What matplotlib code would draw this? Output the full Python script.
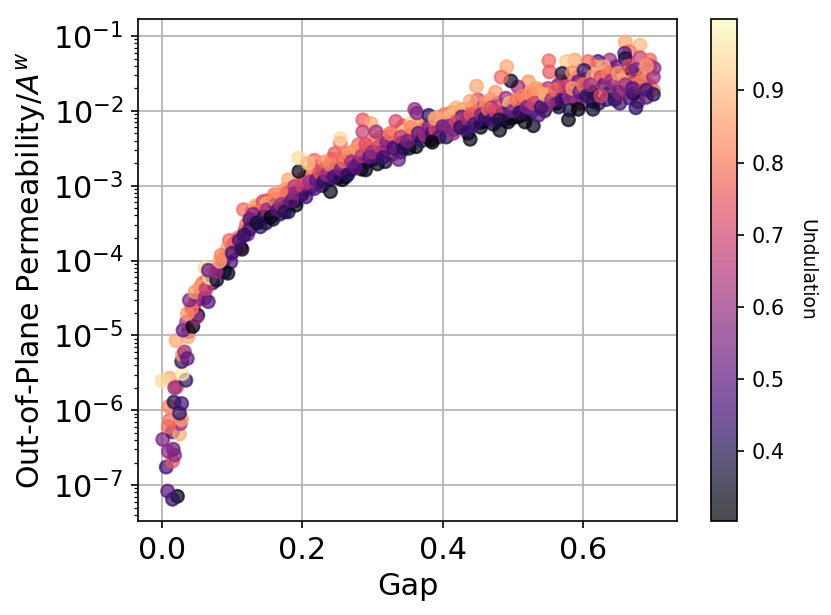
import numpy as np
import matplotlib
matplotlib.use("Agg")
import matplotlib.pyplot as plt

# values, log10 of the permeability because the axis is log
gap_low = [.022, .015, .008, .006, .015, .018, .016, .009, .001, .015,
           .025, .026, .009, .011, .028, .010, .025, .017, .028, .011,
           .000, .021, .018, .034, .029, .028, .029, .032, .036, .020,
           .037, .030, .035, .044, .051, .049, .036, .042, .039, .047,
           .054, .061, .066, .063, .061, .068, .078, .066, .089, .094,
           .077, .082, .093, .084, .103, .096, .114, .117, .100, .110]
logk_low = [-7.15, -7.19, -7.08, -6.76, -6.68, -6.60, -6.52, -6.55, -6.39, -6.29,
            -6.32, -6.18, -6.22, -6.13, -6.12, -5.95, -6.04, -5.89, -5.91, -5.57,
            -5.61, -5.69, -5.70, -5.60, -5.51, -5.35, -5.26, -5.22, -5.31, -5.07,
            -5.02, -4.93, -4.82, -4.88, -4.73, -4.76, -4.71, -4.64, -4.53, -4.42,
            -4.35, -4.50, -4.55, -4.38, -4.10, -4.23, -4.26, -4.13, -4.15, -4.17,
            -4.15, -4.01, -3.84, -3.93, -3.77, -3.73, -3.85, -3.66, -3.90, -3.73]
und_low = [.31, .42, .48, .45, .75, .58, .52, .58, .55, .47,
           .88, .62, .78, .78, .85, .82, .42, .40, .45, .88,
           .95, .75, .60, .42, .97, .42, .85, .62, .50, .87,
           .87, .50, .62, .305, .35, .60, .85, .80, .55, .85,
           .85, .60, .48, .68, .95, .96, .35, .50, .42, .33,
           .60, .88, .88, .82, .70, .78, .33, .42, .45, .45]

gap_mid = [.116, .133, .144, .149, .140, .161, .168, .180, .180, .191,
           .199, .178, .189, .195, .195, .215, .217, .208, .217, .240,
           .229, .232, .248, .246, .257, .250, .267, .254, .254, .269,
           .280, .279, .290, .286, .298, .286, .299, .307, .309, .305,
           .308, .324, .333, .337, .331, .345, .342, .357, .362, .383,
           .360, .357, .363, .375, .380, .390,
           .125, .130, .135, .145, .150, .155, .160, .165, .170, .175,
           .185, .190, .200, .205, .210, .220, .225, .230, .235, .240,
           .245, .255, .260, .265, .270, .275, .285, .290, .295, .300,
           .310, .315, .320, .325, .330, .340, .345, .350, .355, .365,
           .370, .375, .380, .385, .390, .395]
logk_mid = [-3.32, -3.27, -3.21, -3.24, -3.33, -3.26, -3.10, -2.92, -3.24, -3.26,
            -3.12, -3.10, -3.01, -2.81, -2.63, -2.86, -2.66, -2.70, -3.04, -3.08,
            -2.79, -2.68, -2.75, -2.57, -2.92, -2.90, -2.57, -2.43, -2.37, -2.79,
            -2.69, -2.52, -2.79, -2.12, -2.17, -2.28, -2.43, -2.71, -2.37, -2.28,
            -2.57, -2.52, -2.14, -2.65, -2.37, -2.28, -2.43, -2.30, -2.48, -2.39,
            -1.98, -2.14, -2.03, -2.19, -2.06, -2.12,
            -3.45, -3.38, -3.50, -3.42, -3.32, -3.42, -3.18, -3.32, -3.25, -3.35,
            -3.20, -3.10, -3.00, -3.15, -2.95, -2.92, -2.82, -2.95, -2.85, -2.72,
            -2.88, -2.78, -2.68, -2.85, -2.68, -2.75, -2.60, -2.45, -2.62, -2.55,
            -2.47, -2.62, -2.42, -2.30, -2.50, -2.35, -2.50, -2.40, -2.22, -2.30,
            -2.40, -2.32, -2.22, -2.30, -2.25, -2.35]
und_mid = [.78, .87, .72, .88, .78, .42, .85, .87, .31, .33,
           .31, .78, .65, .33, .95, .83, .78, .90, .48, .33,
           .55, .85, .65, .75, .31, .33, .85, .78, .95, .31,
           .42, .85, .33, .75, .87, .68, .85, .33, .85, .62,
           .42, .72, .72, .52, .85, .93, .42, .78, .31, .31,
           .60, .95, .55, .85, .42, .87,
           .45, .55, .36, .40, .60, .33, .82, .50, .62, .40,
           .50, .58, .70, .45, .60, .50, .75, .42, .60, .82,
           .45, .55, .80, .42, .60, .50, .65, .72, .50, .60,
           .70, .45, .55, .80, .45, .68, .40, .55, .82, .50,
           .42, .62, .55, .45, .72, .48]

gap_high = [.660, .681, .666, .659, .660, .681, .695, .701, .638, .621,
            .647, .629, .617, .607, .588, .576, .551, .552, .570, .585,
            .601, .669, .690, .671, .614, .593, .620, .628, .612, .650,
            .655, .638, .695, .700, .655, .672, .675, .690, .700, .666,
            .633, .614, .590, .579, .574, .550, .533, .522, .507, .497,
            .491, .483, .475, .490, .448, .439, .419, .410, .389, .427,
            .462, .469, .495, .514, .453, .454, .481, .439, .517, .529,
            .507, .493, .385, .405, .434, .415, .400, .536, .562, .548,
            .581, .593, .614, .448, .486, .524, .564,
            .410, .420, .425, .435, .440, .445, .455, .460, .465, .470,
            .475, .480, .500, .505, .510, .515, .520, .530, .540, .545,
            .555, .560, .570, .575, .580, .585, .595, .600, .605, .610,
            .625, .630, .635, .640, .645, .650, .660, .665, .675, .680,
            .685, .690, .695, .700, .690, .670, .650, .625]
logk_high = [-1.08, -1.12, -1.21, -1.23, -1.30, -1.29, -1.32, -1.43, -1.32, -1.34,
             -1.41, -1.41, -1.41, -1.34, -1.32, -1.34, -1.33, -1.48, -1.50, -1.49,
             -1.46, -1.47, -1.50, -1.59, -1.54, -1.61, -1.63, -1.75, -1.75, -1.68,
             -1.59, -1.75, -1.66, -1.72, -1.79, -1.77, -1.96, -1.82, -1.78, -1.83,
             -1.85, -1.88, -1.86, -2.12, -1.77, -1.80, -1.70, -1.61, -1.68, -1.60,
             -1.41, -1.55, -1.75, -1.83, -1.67, -1.87, -1.96, -2.08, -2.10, -2.08,
             -1.90, -1.96, -1.90, -1.94, -2.15, -2.22, -2.26, -2.38, -2.15, -2.20,
             -2.08, -2.15, -2.42, -2.35, -2.24, -2.30, -2.21, -2.06, -1.90, -1.92,
             -1.99, -1.98, -1.98, -2.01, -2.04, -1.86, -1.66,
             -2.20, -2.15, -2.22, -2.10, -2.05, -2.18, -2.05, -2.10, -1.98, -2.12,
             -2.00, -2.12, -2.00, -1.85, -2.02, -1.80, -1.95, -1.90, -1.95, -1.78,
             -1.85, -1.72, -1.85, -1.68, -1.80, -1.70, -1.75, -1.65, -1.80, -1.65,
             -1.55, -1.65, -1.50, -1.60, -1.85, -1.50, -1.65, -1.40, -1.45, -1.65,
             -1.55, -1.72, -1.40, -1.55, -1.40, -1.70, -1.75, -1.80]
und_high = [.87, .90, .80, .50, .38, .68, .78, .58, .62, .45,
            .50, .88, .87, .78, .87, .92, .78, .75, .37, .83,
            .42, .31, .87, .78, .85, .50, .95, .95, .31, .78,
            .88, .42, .78, .82, .78, .31, .42, .50, .40, .45,
            .42, .38, .60, .32, .48, .87, .85, .85, .62, .35,
            .87, .78, .85, .60, .87, .87, .88, .90, .87, .50,
            .85, .60, .90, .62, .33, .31, .33, .33, .33, .33,
            .31, .31, .31, .40, .45, .60, .50, .48, .32, .60,
            .38, .31, .36, .80, .45, .85, .55,
            .58, .70, .42, .62, .75, .45, .55, .42, .78, .45,
            .70, .38, .55, .80, .42, .82, .55, .70, .45, .88,
            .60, .78, .45, .70, .60, .85, .50, .80, .42, .60,
            .72, .50, .80, .60, .42, .85, .60, .70, .55, .75,
            .80, .45, .65, .62, .85, .48, .55, .70]

# the dense middle of the band, drawn first so the readable points sit on top
gap_bulk = [.038, .045, .048, .052, .055, .058, .060, .065, .070, .072,
            .075, .080, .085, .088, .090, .095, .098, .105, .108, .112,
            .118, .120, .122, .125, .128, .130, .135, .138, .140, .142,
            .145, .148, .150, .152, .155, .158, .160, .163, .166, .168,
            .170, .172, .175, .178, .180, .183, .186, .190, .193, .198,
            .202, .205, .208, .212, .215, .218, .222, .226, .228, .232,
            .236, .238, .242, .246, .250, .252, .256, .260, .262, .266,
            .270, .272, .276, .280, .282, .284, .288, .292, .296, .300,
            .303, .306, .312, .316, .318, .322, .326, .328, .332, .336,
            .340, .344, .348, .352, .356, .360, .368, .372, .378, .392,
            .402, .406, .412, .416, .422, .428, .432, .436, .442, .446,
            .450, .456, .458, .464, .468, .472, .478, .482, .488, .492,
            .498, .502, .506, .512, .516, .520, .526, .528, .535, .540,
            .545, .550, .558, .565, .568, .572, .578, .588, .592, .598,
            .603, .608, .618, .622, .632, .642, .652, .662, .678, .688]
logk_bulk = [-4.95, -4.65, -4.55, -4.52, -4.45, -4.30, -4.40, -4.25, -4.20, -4.30,
             -4.12, -4.15, -4.05, -4.00, -3.95, -3.90, -4.02, -3.85, -3.70, -3.82,
             -3.60, -3.52, -3.65, -3.58, -3.35, -3.50, -3.30, -3.42, -3.55, -3.25,
             -3.35, -3.50, -3.20, -3.38, -3.28, -3.45, -3.12, -3.30, -3.20, -3.38,
             -3.15, -3.30, -3.05, -3.22, -3.35, -3.05, -3.15, -3.20, -2.98, -3.05,
             -2.90, -3.05, -2.95, -3.02, -2.78, -2.95, -2.75, -2.90, -3.00, -2.80,
             -2.75, -2.92, -2.65, -2.82, -2.70, -2.85, -2.62, -2.78, -2.88, -2.62,
             -2.55, -2.75, -2.62, -2.45, -2.60, -2.78, -2.52, -2.68, -2.48, -2.65,
             -2.40, -2.52, -2.35, -2.50, -2.68, -2.35, -2.45, -2.58, -2.28, -2.45,
             -2.55, -2.20, -2.35, -2.50, -2.35, -2.25, -2.18, -2.25, -2.35, -2.20,
             -2.05, -2.15, -2.02, -2.25, -2.08, -1.98, -2.18, -2.30, -1.95, -2.10,
             -1.85, -2.15, -1.95, -2.05, -1.85, -2.18, -1.90, -1.98, -2.12, -1.98,
             -2.10, -1.88, -1.95, -1.85, -2.05, -1.75, -2.02, -1.78, -1.88, -1.72,
             -2.00, -1.70, -1.78, -1.95, -1.60, -1.75, -1.60, -1.85, -1.55, -1.90,
             -1.58, -1.72, -1.70, -1.90, -1.55, -1.45, -1.90, -1.55, -1.88, -1.62]
und_bulk = [.55, .65, .75, .55, .72, .80, .55, .78, .60, .42,
            .85, .50, .70, .55, .75, .62, .45, .65, .80, .55,
            .72, .80, .55, .45, .72, .60, .82, .62, .42, .85,
            .65, .40, .75, .50, .68, .36, .80, .55, .70, .42,
            .78, .50, .85, .60, .38, .72, .55, .42, .85, .62,
            .78, .55, .82, .45, .80, .60, .72, .55, .38, .65,
            .85, .42, .75, .58, .82, .50, .88, .60, .36, .72,
            .82, .45, .65, .78, .55, .36, .85, .45, .70, .42,
            .80, .60, .82, .55, .36, .72, .60, .42, .85, .55,
            .38, .75, .62, .36, .50, .70, .80, .55, .40, .65,
            .80, .55, .82, .42, .65, .85, .50, .38, .80, .55,
            .72, .40, .65, .50, .85, .36, .62, .80, .42, .68,
            .38, .85, .50, .65, .40, .88, .45, .75, .55, .85,
            .38, .65, .72, .40, .85, .55, .68, .42, .80, .50,
            .70, .55, .75, .42, .60, .78, .45, .72, .50, .60]

y_ticks = [1e-7, 1e-6, 1e-5, 1e-4, 1e-3, 1e-2, 1e-1]
x_ticks = [0.0, 0.2, 0.4, 0.6]
cbar_ticks = [0.4, 0.5, 0.6, 0.7, 0.8, 0.9]

gap = np.array(gap_bulk + gap_low + gap_mid + gap_high)
perm = 10.0 ** np.array(logk_bulk + logk_low + logk_mid + logk_high)
undulation = np.array(und_bulk + und_low + und_mid + und_high)

fig = plt.figure(figsize=(831 / 150, 615 / 150), dpi=150)
ax = fig.add_axes([138 / 831, 1 - 521 / 615, 539 / 831, 502 / 615])
cax = fig.add_axes([711 / 831, 1 - 521 / 615, 26 / 831, 502 / 615])

sc = ax.scatter(gap, perm, c=undulation, cmap="magma", alpha=0.7, s=38,
                vmin=0.303, vmax=0.999, zorder=3)
ax.set_yscale("log")
ax.set_yticks(y_ticks)
ax.set_xticks(x_ticks)
ax.set_xlim(-0.0342, 0.7336)
ax.set_ylim(10 ** -7.48, 10 ** -0.773)
ax.grid(True, zorder=0)
ax.set_axisbelow(True)
ax.tick_params(axis="both", which="major", labelsize=14.5)
ax.set_xlabel("Gap", fontsize=14.5, labelpad=3.5)
ax.set_ylabel("Out-of-Plane Permeability/$A^w$", fontsize=14.4, labelpad=2)

cbar = fig.colorbar(sc, cax=cax)
cbar.set_ticks(cbar_ticks)
cbar.ax.tick_params(labelsize=10)
cbar.set_label("Undulation", rotation=270, labelpad=15, fontsize=9)

fig.savefig("out.png", dpi=150)
